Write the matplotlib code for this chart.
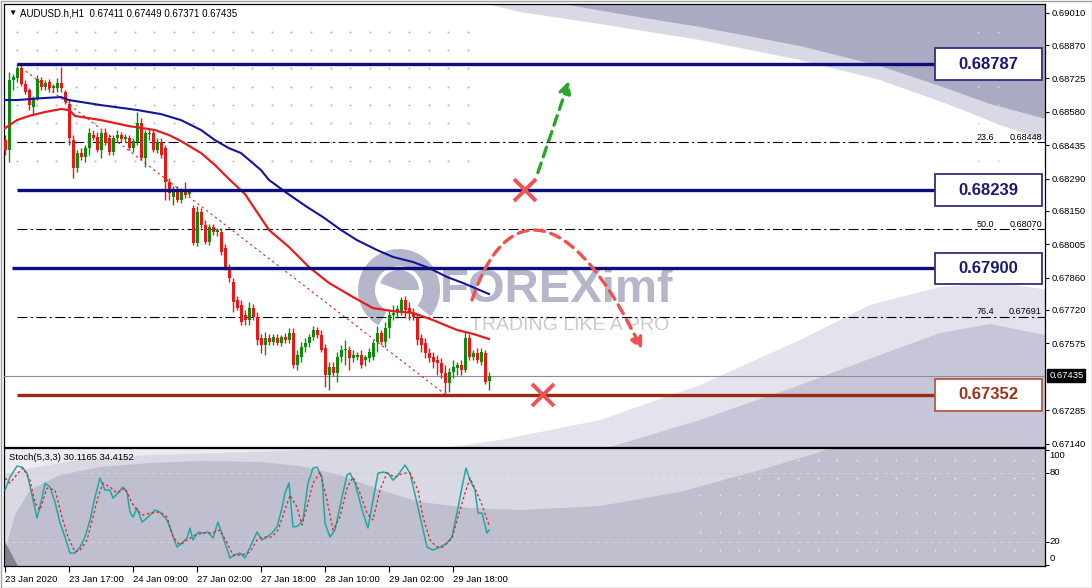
import numpy as np
import matplotlib
matplotlib.use('Agg')
import matplotlib.pyplot as plt
from matplotlib.patches import Rectangle, FancyArrowPatch, Wedge
from matplotlib.path import Path
import matplotlib.transforms as mtrans

plt.rcParams['font.family'] = ['Liberation Sans', 'DejaVu Sans']

# ---- H1 candles, 23 Jan 2020 -> 30 Jan 2020 ----
opens = [0.68457, 0.68414, 0.68718, 0.68726, 0.68770, 0.68701, 0.68674, 0.68601, 0.68639, 0.68718,
         0.68688, 0.68709, 0.68683, 0.68683, 0.68705, 0.68665, 0.68614, 0.68457, 0.68336, 0.68401,
         0.68384, 0.68422, 0.68479, 0.68471, 0.68414, 0.68488, 0.68466, 0.68405, 0.68466, 0.68479,
         0.68462, 0.68466, 0.68422, 0.68448, 0.68531, 0.68379, 0.68484, 0.68488, 0.68414, 0.68448,
         0.68422, 0.68275, 0.68210, 0.68240, 0.68197, 0.68231, 0.68223, 0.68162, 0.68010, 0.68145,
         0.68088, 0.68014, 0.68080, 0.68058, 0.68058, 0.67988, 0.67902, 0.67841, 0.67763, 0.67741,
         0.67698, 0.67676, 0.67728, 0.67690, 0.67598, 0.67567, 0.67598, 0.67580, 0.67598, 0.67576,
         0.67603, 0.67589, 0.67620, 0.67481, 0.67516, 0.67559, 0.67576, 0.67603, 0.67633, 0.67611,
         0.67554, 0.67437, 0.67473, 0.67446, 0.67516, 0.67546, 0.67546, 0.67511, 0.67516, 0.67524,
         0.67503, 0.67511, 0.67516, 0.67580, 0.67620, 0.67580, 0.67641, 0.67698, 0.67707, 0.67711,
         0.67763, 0.67728, 0.67707, 0.67685, 0.67598, 0.67576, 0.67533, 0.67516, 0.67503, 0.67490,
         0.67446, 0.67403, 0.67450, 0.67468, 0.67481, 0.67459, 0.67598, 0.67516, 0.67533, 0.67494,
         0.67533, 0.67411]
highs = [0.68479, 0.68752, 0.68744, 0.68792, 0.68788, 0.68718, 0.68683, 0.68648, 0.68739, 0.68731,
         0.68718, 0.68722, 0.68701, 0.68726, 0.68775, 0.68674, 0.68631, 0.68479, 0.68414, 0.68422,
         0.68435, 0.68509, 0.68501, 0.68492, 0.68501, 0.68509, 0.68484, 0.68479, 0.68501, 0.68492,
         0.68484, 0.68479, 0.68466, 0.68579, 0.68553, 0.68501, 0.68509, 0.68501, 0.68466, 0.68466,
         0.68435, 0.68292, 0.68258, 0.68258, 0.68249, 0.68275, 0.68240, 0.68175, 0.68171, 0.68162,
         0.68110, 0.68093, 0.68093, 0.68075, 0.68075, 0.68006, 0.67920, 0.67858, 0.67780, 0.67763,
         0.67720, 0.67754, 0.67746, 0.67711, 0.67616, 0.67624, 0.67616, 0.67616, 0.67616, 0.67611,
         0.67620, 0.67641, 0.67641, 0.67546, 0.67580, 0.67598, 0.67616, 0.67650, 0.67646, 0.67633,
         0.67572, 0.67494, 0.67494, 0.67537, 0.67567, 0.67589, 0.67563, 0.67546, 0.67537, 0.67546,
         0.67524, 0.67554, 0.67589, 0.67650, 0.67633, 0.67667, 0.67720, 0.67741, 0.67741, 0.67776,
         0.67780, 0.67754, 0.67728, 0.67703, 0.67616, 0.67598, 0.67554, 0.67537, 0.67524, 0.67511,
         0.67481, 0.67468, 0.67503, 0.67494, 0.67503, 0.67624, 0.67616, 0.67546, 0.67554, 0.67554,
         0.67546, 0.67449]
lows = [0.68392, 0.68362, 0.68674, 0.68709, 0.68692, 0.68657, 0.68588, 0.68566, 0.68631, 0.68674,
        0.68674, 0.68665, 0.68665, 0.68665, 0.68665, 0.68614, 0.68435, 0.68292, 0.68318, 0.68371,
        0.68362, 0.68392, 0.68457, 0.68405, 0.68379, 0.68435, 0.68392, 0.68392, 0.68448, 0.68448,
        0.68448, 0.68414, 0.68405, 0.68435, 0.68371, 0.68341, 0.68457, 0.68405, 0.68401, 0.68379,
        0.68197, 0.68197, 0.68175, 0.68188, 0.68184, 0.68205, 0.68214, 0.68001, 0.67997, 0.68075,
        0.68006, 0.68001, 0.68045, 0.68041, 0.67958, 0.67893, 0.67841, 0.67711, 0.67720, 0.67654,
        0.67654, 0.67654, 0.67676, 0.67567, 0.67533, 0.67524, 0.67567, 0.67567, 0.67567, 0.67563,
        0.67576, 0.67576, 0.67468, 0.67459, 0.67494, 0.67537, 0.67559, 0.67589, 0.67598, 0.67537,
        0.67386, 0.67372, 0.67433, 0.67407, 0.67494, 0.67481, 0.67459, 0.67494, 0.67503, 0.67468,
        0.67477, 0.67494, 0.67503, 0.67537, 0.67567, 0.67559, 0.67598, 0.67676, 0.67685, 0.67698,
        0.67685, 0.67676, 0.67676, 0.67567, 0.67537, 0.67511, 0.67494, 0.67468, 0.67437, 0.67424,
        0.67359, 0.67363, 0.67424, 0.67437, 0.67437, 0.67450, 0.67503, 0.67503, 0.67490, 0.67481,
        0.67399, 0.67371]
closes = [0.68414, 0.68718, 0.68731, 0.68770, 0.68701, 0.68665, 0.68609, 0.68639, 0.68722, 0.68688,
          0.68705, 0.68683, 0.68692, 0.68705, 0.68683, 0.68622, 0.68466, 0.68336, 0.68401, 0.68384,
          0.68422, 0.68488, 0.68466, 0.68414, 0.68488, 0.68444, 0.68405, 0.68466, 0.68479, 0.68462,
          0.68471, 0.68422, 0.68453, 0.68531, 0.68379, 0.68488, 0.68488, 0.68414, 0.68448, 0.68392,
          0.68275, 0.68227, 0.68240, 0.68197, 0.68231, 0.68218, 0.68231, 0.68010, 0.68145, 0.68088,
          0.68014, 0.68080, 0.68058, 0.68067, 0.67971, 0.67907, 0.67858, 0.67754, 0.67728, 0.67667,
          0.67676, 0.67728, 0.67690, 0.67589, 0.67567, 0.67598, 0.67580, 0.67603, 0.67576, 0.67603,
          0.67589, 0.67620, 0.67481, 0.67524, 0.67559, 0.67576, 0.67603, 0.67633, 0.67611, 0.67546,
          0.67437, 0.67473, 0.67446, 0.67516, 0.67546, 0.67550, 0.67511, 0.67524, 0.67524, 0.67481,
          0.67516, 0.67537, 0.67576, 0.67620, 0.67580, 0.67641, 0.67698, 0.67707, 0.67724, 0.67763,
          0.67720, 0.67707, 0.67690, 0.67589, 0.67567, 0.67533, 0.67511, 0.67494, 0.67490, 0.67446,
          0.67403, 0.67450, 0.67473, 0.67481, 0.67459, 0.67598, 0.67516, 0.67533, 0.67503, 0.67537,
          0.67407, 0.67435]

# moving averages (bar position, price)
ma_red_x = [0, 3, 6, 10, 14, 16, 17.5, 24, 31, 37.5, 41, 44, 49, 52.5, 56, 60, 66, 71, 76, 81,
            87, 92, 97, 102, 107, 113, 117, 121]
ma_red_y = [0.68509, 0.68544, 0.68562, 0.68579, 0.68592, 0.68588, 0.68562, 0.68544, 0.68518, 0.68501,
            0.68479, 0.68453, 0.68401, 0.68349, 0.68288, 0.68223, 0.68067, 0.67993, 0.67906, 0.67837,
            0.67776, 0.67728, 0.67715, 0.67707, 0.67676, 0.67633, 0.67616, 0.67594]
ma_blue_x = [0, 3, 9, 14, 16, 24, 33, 39, 44, 49, 52.5, 56, 59, 64, 66, 70.5, 75.5, 79.5, 84, 88,
             93, 97, 102, 106, 110.5, 114.5, 121]
ma_blue_y = [0.68631, 0.68631, 0.68639, 0.68644, 0.68631, 0.68609, 0.68588, 0.68570, 0.68544, 0.68501,
             0.68457, 0.68422, 0.68401, 0.68327, 0.68284, 0.68227, 0.68167, 0.68123, 0.68067, 0.68023,
             0.67980, 0.67950, 0.67928, 0.67902, 0.67863, 0.67837, 0.67789]

# Stochastic (5,3,3)
stoch_k_x = [0, 1.25, 3, 4.25, 5.5, 6.75, 8, 9.25, 10, 11.25, 12.5, 13.75, 15, 16.25, 17.5, 18.75,
             20, 21.25, 22.5, 23.75, 25, 26.25, 27, 28.25, 29.5, 30.5, 31.25, 32, 33, 34.25, 35.5,
             37.5, 38.75, 40.5, 41.75, 43, 44.25, 45.5, 46.25, 47, 48.25, 49.5, 50.75, 52, 53.25,
             54.5, 56.25, 57.5, 58.75, 60, 61.75, 63, 64.25, 65.5, 66.75, 68, 69.25, 70, 71, 72,
             73.25, 74.5, 75.75, 77, 78, 79.25, 80, 81.25, 82.5, 84.25, 85.5, 86.25, 87.5, 89.5,
             90.75, 92, 93.25, 94.5, 95.75, 97, 98.25, 100, 101.25, 103, 104.25, 105.5, 107, 108.75,
             110.5, 111.75, 113, 114.25, 115.25, 116.25, 117.5, 118.25, 119.25, 120.5, 121]
stoch_k = [64.9, 76.1, 85.7, 84.8, 79.6, 60.5, 40.6, 57.9, 70.9, 67.5, 54.5, 36.3, 24.1, 10.2, 10.2,
           15.4, 24.1, 38.9, 58.8, 75.3, 64.9, 64.9, 57.9, 62.3, 67.5, 63.1, 45.8, 41.5, 49.3, 37.1,
           40.6, 47.5, 45.8, 38.9, 27.6, 15.4, 18.9, 23.2, 31.9, 21.5, 28.4, 27.6, 28.4, 23.2, 37.1,
           24.1, 5.9, 8.5, 10.2, 5.9, 18.9, 28.4, 21.5, 24.1, 27.6, 32.8, 49.3, 62.3, 70.9, 32.8,
           33.7, 38.9, 70.9, 84.0, 84.8, 76.1, 36.3, 24.1, 30.2, 58.8, 77.9, 79.6, 70.9, 44.9, 31.9,
           56.2, 79.6, 80.5, 79.6, 73.5, 77.9, 86.6, 79.6, 53.6, 34.5, 15.4, 12.8, 15.4, 18.9, 24.1,
           44.9, 67.5, 84.0, 73.5, 64.9, 44.9, 44.9, 27.6, 30.1]
stoch_d_x = [0, 1.25, 3.25, 4.5, 6.25, 7.5, 8.75, 10.5, 12.5, 14.25, 15.75, 17.5, 18.75, 20.5, 22,
             23.25, 24.5, 26.25, 28, 30, 31.75, 33, 34.5, 36.25, 38.75, 40.5, 42, 43.75, 45.5, 47.5,
             49.5, 51.75, 53.75, 55.5, 57, 59.25, 61.25, 63, 64.5, 66.75, 68.25, 70, 71.25, 73,
             74.25, 75.5, 77, 78.75, 80.5, 82, 83.75, 85.5, 87, 88.75, 90.5, 92, 93.75, 95.5, 97.5,
             99.5, 101.25, 103.25, 104.5, 106.25, 108, 109.5, 111.75, 113.25, 115, 116.25, 118,
             119.25, 121]
stoch_d = [75.3, 70.9, 79.6, 84.0, 73.5, 53.6, 47.5, 66.6, 64.9, 41.5, 24.1, 11.1, 12.8, 21.5, 41.5,
           58.8, 70.9, 67.5, 62.3, 66.6, 53.6, 47.5, 43.2, 44.9, 45.8, 41.5, 24.1, 17.2, 21.5, 25.8,
           27.6, 27.6, 30.2, 18.9, 8.5, 8.5, 11.1, 21.5, 24.1, 24.1, 30.2, 47.5, 60.5, 50.1, 34.5,
           50.1, 70.9, 80.5, 56.2, 30.2, 41.5, 66.6, 76.1, 62.3, 44.9, 38.9, 64.9, 79.6, 76.1, 79.6,
           79.6, 64.9, 41.5, 21.5, 15.4, 15.4, 23.2, 41.5, 62.3, 75.3, 62.3, 51.9, 34.4]

levels = [0.68787, 0.68239, 0.67900]
support = 0.67352
level_start = [3, 3, 1.75, 3]
fib_levels = [0.68448, 0.68070, 0.67691]
fib_names = ['23.6', '50.0', '76.4']
fib_from = (3, 0.68786)
fib_to = (110, 0.67354)
last_price = 0.67435
price_ticks = [0.69010, 0.68870, 0.68725, 0.68580, 0.68435, 0.68290, 0.68150, 0.68005,
               0.67860, 0.67720, 0.67575, 0.67285, 0.67140]
date_pos = [0, 16, 32, 48, 64, 80, 96, 112]
date_labels = ['23 Jan 2020', '23 Jan 17:00', '24 Jan 09:00', '27 Jan 02:00',
               '27 Jan 18:00', '28 Jan 10:00', '29 Jan 02:00', '29 Jan 18:00']

# ---- figure / panels (pixel layout) ----
W, H = 1092, 588
fig = plt.figure(figsize=(W / 100, H / 100), dpi=100)
fig.patch.set_facecolor('white')


def frac(x0, y0, x1, y1):
    return [x0 / W, 1 - y1 / H, (x1 - x0) / W, (y1 - y0) / H]


bg = fig.add_axes([0, 0, 1, 1], zorder=0)
bg.set_xlim(0, W)
bg.set_ylim(H, 0)
bg.axis('off')

ax = fig.add_axes(frac(4, 4, 1045, 447), zorder=2)
st = fig.add_axes(frac(4, 448, 1045, 566), zorder=2)
for a in (ax, st):
    a.set_facecolor('none')
    for s in a.spines.values():
        s.set_color('black')
        s.set_linewidth(0.9)

main_clip = Rectangle((4, 4), 1041, 443, transform=bg.transData)
stoch_clip = Rectangle((4, 448), 1041, 118, transform=bg.transData)


def shape(pts, color, clip, z=1):
    xs, ys = zip(*pts)
    p = bg.fill(xs, ys, color=color, lw=0, zorder=z)[0]
    p.set_clip_path(clip)


# background watermark artwork
shape([(470, 0), (520, 12), (600, 24), (700, 40), (800, 60), (880, 80), (950, 105), (1000, 125),
       (1050, 142), (1050, 0)], '#d9d9e6', main_clip)
shape([(540, 0), (620, 14), (700, 27), (800, 46), (880, 66), (940, 86), (990, 104), (1050, 120),
       (1050, 0)], '#aaaac3', main_clip)
shape([(430, 450), (500, 440), (600, 420), (700, 385), (800, 340), (870, 305), (940, 287),
       (1000, 283), (1050, 290), (1050, 450)], '#e3e3ed', main_clip)
shape([(600, 450), (700, 420), (800, 385), (880, 355), (940, 333), (990, 324), (1050, 336),
       (1050, 450)], '#c6c6d8', main_clip)

shape([(0, 440), (1050, 440), (1050, 570), (0, 570)], '#bfbfcf', stoch_clip)
shape([(0, 440), (850, 440), (820, 452), (760, 470), (680, 492), (600, 506), (520, 510),
       (470, 508), (420, 502), (380, 490), (340, 475), (300, 466), (260, 462), (200, 461),
       (150, 463), (100, 467), (60, 475), (30, 490), (15, 515), (8, 540), (4, 570), (0, 570)],
      '#d9d9e4', stoch_clip)
shape([(0, 440), (380, 440), (330, 449), (250, 452), (150, 455), (80, 460), (30, 468), (0, 476)],
      '#ececf2', stoch_clip)
shape([(0, 570), (4, 540), (20, 570)], '#80808e', stoch_clip)

# dot pattern
dx = np.arange(17, 475, 19.6)
dy = np.array([32, 50, 68, 87, 105, 123, 142, 161])
gx, gy = np.meshgrid(dx, dy)
bg.scatter(gx.ravel(), gy.ravel(), s=2.2, color='#b9b9c4', lw=0, zorder=2)
gx, gy = np.meshgrid([978, 998], [32, 50, 68, 87, 105, 123, 142, 161])
bg.scatter(gx.ravel(), gy.ravel(), s=2.2, color='#d2d2de', lw=0, zorder=2)
gx, gy = np.meshgrid(np.arange(700, 1035, 19.6), [460, 478, 495, 513, 532, 550])
bg.scatter(gx.ravel(), gy.ravel(), s=2.5, color='#e2e2ec', lw=0, zorder=2)

# FOREXimf logo
bg.add_patch(Wedge((399, 290), 41, 120, 400, width=17, color='#b6b6ca', lw=0, zorder=3))
bg.add_patch(Wedge((399, 290), 20, 200, 360, color='#b6b6ca', lw=0, zorder=3))
bg.text(440, 302, 'FOREXimf', fontsize=34, fontweight='bold', color='#b6b6ca', zorder=3)
bg.text(470, 330, 'TRADING LIKE A PRO', fontsize=14, color='#c9c9d6', zorder=3)

bg.add_patch(Rectangle((0.5, 0.5), W - 1, H - 1, fill=False, ec='#a0a0a0', lw=1, zorder=5))
bg.text(8, 13, '\u25bc', fontsize=6, va='center', zorder=5)
bg.text(20, 13, 'AUDUSD.h,H1  0.67411 0.67449 0.67371 0.67435', fontsize=7, va='center', zorder=5)
bg.text(9, 457, 'Stoch(5,3,3) 30.1165 34.4152', fontsize=6.8, va='center', zorder=5)

# ---- main price panel ----
x = np.arange(len(closes))
o, h, l, c = map(np.array, (opens, highs, lows, closes))
up = c >= o
col = np.where(up, '#0f8a0f', '#e81818')
ax.vlines(x, l, h, colors=col, lw=1, zorder=4)
ax.bar(x, np.maximum(np.abs(c - o), 0.00003), bottom=np.minimum(o, c), width=0.75,
       color=col, lw=0, zorder=5)

ax.plot(ma_red_x, ma_red_y, color='#e41e1e', lw=1.6, zorder=6)
ax.plot(ma_blue_x, ma_blue_y, color='#1414a0', lw=1.5, zorder=6)

ax.axhline(last_price, color='#8c8c9c', lw=0.8, zorder=3)
ax.plot([fib_from[0], fib_to[0]], [fib_from[1], fib_to[1]], color='#e02020', lw=0.8,
        ls=(0, (2, 3)), zorder=6)
for lv, nm in zip(fib_levels, fib_names):
    ax.hlines(lv, fib_from[0], 260, color='black', lw=0.8, ls=(0, (9, 3, 2, 3)), zorder=3)
    ax.text(243, lv + 0.00003, nm, fontsize=6.5, va='bottom', ha='left', zorder=7)
    ax.text(259.2, lv + 0.00003, '%.5f' % lv, fontsize=6.5, va='bottom', ha='right', zorder=7)

box_h = 0.00069
for lv, x0 in zip(levels + [support], level_start):
    is_sup = lv == support
    lc = '#9c2a12' if is_sup else '#0d0d7c'
    ax.hlines(lv, x0, 232.5, color=lc, lw=2.4, zorder=7)
    ax.add_patch(Rectangle((232.5, lv - box_h), 26.75, 2 * box_h, fc='white',
                           ec='#b05a46' if is_sup else '#30307c', lw=1.3, zorder=8))
    ax.text(245.9, lv, '%.5f' % lv, fontsize=12, fontweight='bold', ha='center', va='center',
            color='#a0321a' if is_sup else '#1a1a70', zorder=9)

# scenario arrows
arc = Path([(116.75, 0.67763), (125, 0.68197), (141.25, 0.68197), (159.25, 0.67546)],
           [Path.MOVETO, Path.CURVE4, Path.CURVE4, Path.CURVE4])
ax.add_patch(FancyArrowPatch(path=arc, arrowstyle='-|>,head_length=7,head_width=3.5',
                             color='#f05050', lw=2.4, ls=(0, (3, 2)), zorder=9))
ax.add_patch(FancyArrowPatch((133, 0.68305), (141.25, 0.68726),
                             arrowstyle='-|>,head_length=7,head_width=3.5',
                             color='#2aa52a', lw=2.4, ls=(0, (3, 2)), zorder=9))
ax.plot([130, 134.5], [0.68239, 0.67352], ls='none', marker='x', ms=16, mew=2.8,
        color='#f25252', zorder=10)

ax.set_xlim(-0.25, 260)
ax.set_ylim(0.67125, 0.69048)
ax.set_xticks([])
ax.yaxis.tick_right()
ax.set_yticks(price_ticks)
ax.set_yticklabels(['%.5f' % t for t in price_ticks])
ax.tick_params(axis='y', direction='out', length=3, width=0.8, pad=1.5, labelsize=6.8)
ax.text(1.004, last_price, '%.5f' % last_price, transform=mtrans.blended_transform_factory(
    ax.transAxes, ax.transData), fontsize=6.8, color='white', va='center', ha='left',
    bbox=dict(fc='black', ec='black', pad=1.2))

# ---- stochastic panel ----
st.axhline(80, color='#d0d0d8', lw=0.8, ls=(0, (4, 3)), zorder=2)
st.axhline(20, color='#d0d0d8', lw=0.8, ls=(0, (4, 3)), zorder=2)
st.plot(stoch_k_x, stoch_k, color='#20a8a4', lw=1.1, zorder=4)
st.plot(stoch_d_x, stoch_d, color='#e41e1e', lw=0.9, ls=(0, (2, 2)), zorder=4)
st.set_xlim(-0.25, 260)
st.set_ylim(-1.04, 101.4)
st.yaxis.tick_right()
st.set_yticks([100, 80, 20, 0])
st.set_yticklabels([])
st.tick_params(axis='y', direction='out', length=3, width=0.8)
for val, pos in zip(['100', '80', '20', '0'], [94.6, 79.9, 20.0, 5.3]):
    st.text(1.004, pos, val, transform=mtrans.blended_transform_factory(st.transAxes, st.transData),
            fontsize=6.8, va='center', ha='left')
st.set_xticks(date_pos)
st.set_xticklabels(date_labels, ha='left')
st.tick_params(axis='x', direction='out', length=4, width=0.8, pad=2.5, labelsize=6.8)

fig.savefig('out.png', dpi=100)
